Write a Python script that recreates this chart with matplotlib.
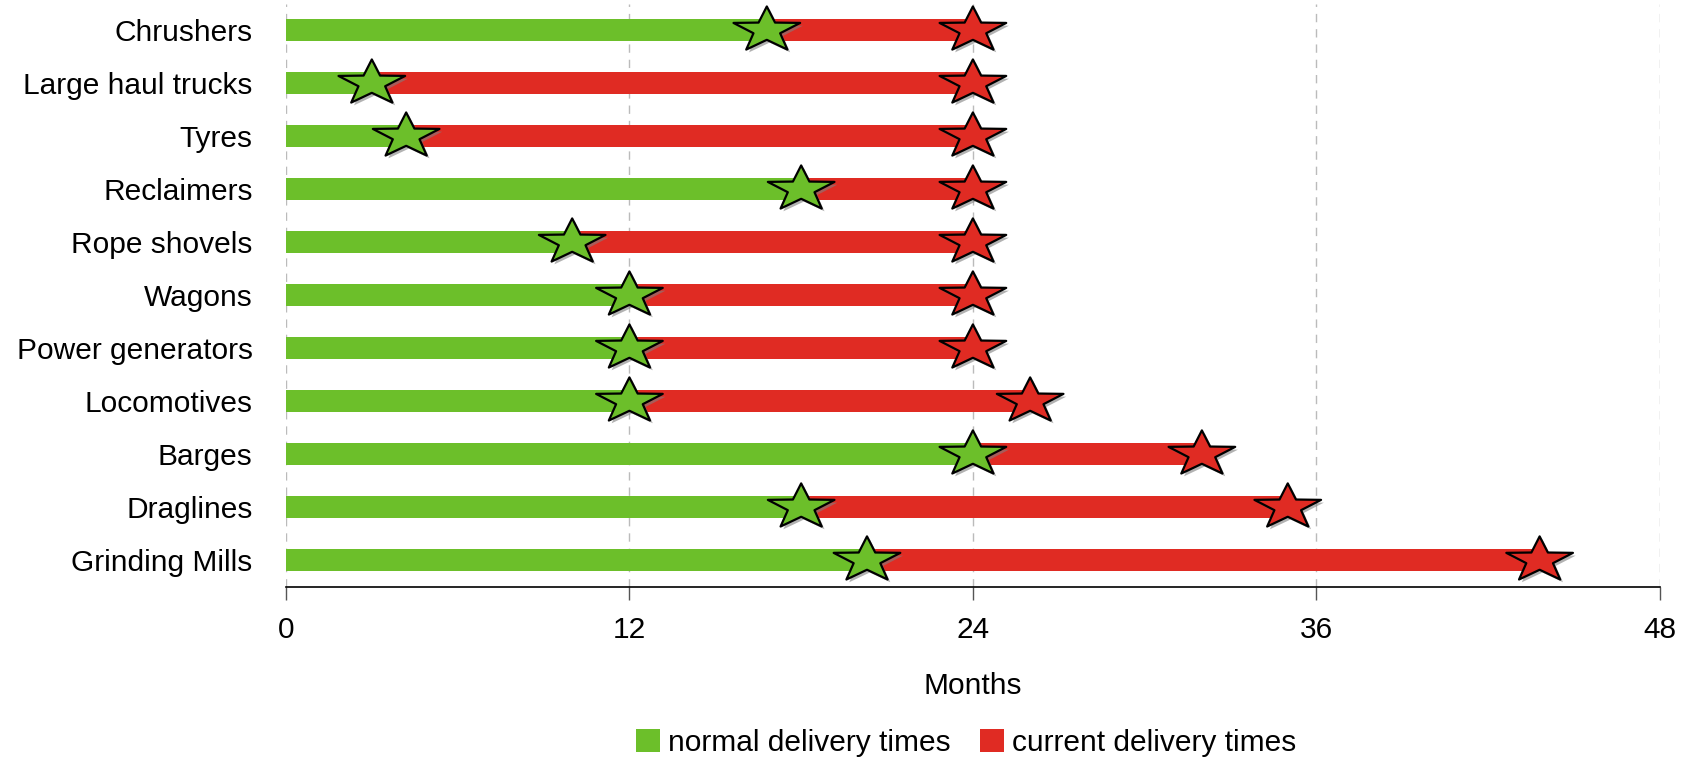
import matplotlib
matplotlib.use("Agg")
import matplotlib.pyplot as plt
import numpy as np
from matplotlib.path import Path
from matplotlib.patches import Patch
import matplotlib.patheffects as pe

plt.rcParams['font.family'] = ['Liberation Sans', 'DejaVu Sans']

categories = ["Chrushers", "Large haul trucks", "Tyres", "Reclaimers", "Rope shovels",
              "Wagons", "Power generators", "Locomotives", "Barges", "Draglines",
              "Grinding Mills"]
normal_times = [16.8, 3.0, 4.2, 18.0, 10.0, 12.0, 12.0, 12.0, 24.0, 18.0, 20.3]
current_times = [24.0, 24.0, 24.0, 24.0, 24.0, 24.0, 24.0, 26.0, 32.0, 35.0, 43.8]
xticks = [0, 12, 24, 36, 48]

GREEN = "#6CBF2A"
RED = "#E02B23"
FS = 21.5

# wide star marker
ang = np.deg2rad(90 + np.arange(10) * 36)
rad = np.where(np.arange(10) % 2 == 0, 1.0, 0.40)
vx = rad * np.cos(ang) * 1.47
vy = rad * np.sin(ang)
verts = np.column_stack([vx, vy])
verts = np.vstack([verts, verts[:1]])
codes = [Path.MOVETO] + [Path.LINETO] * 9 + [Path.CLOSEPOLY]
star = Path(verts, codes)

fig = plt.figure(figsize=(16.92, 7.6), dpi=100)
ax = fig.add_axes([0.169, 0.228, 0.812, 0.767])

y = np.arange(len(categories))
ax.barh(y, current_times, height=0.42, color=RED, zorder=2)
ax.barh(y, normal_times, height=0.42, color=GREEN, zorder=3)

ax.plot(current_times, y, linestyle='none', marker=star, markersize=48,
        markerfacecolor=RED, markeredgecolor='black', markeredgewidth=1.6, zorder=4,
        path_effects=[pe.withSimplePatchShadow(offset=(2, -2), shadow_rgbFace='gray', alpha=0.6)])
ax.plot(normal_times, y, linestyle='none', marker=star, markersize=48,
        markerfacecolor=GREEN, markeredgecolor='black', markeredgewidth=1.6, zorder=5,
        path_effects=[pe.withSimplePatchShadow(offset=(2, -2), shadow_rgbFace='gray', alpha=0.6)])

ax.set_xlim(0, 48)
ax.set_ylim(len(categories) - 0.5, -0.5)
ax.set_xticks(xticks)
ax.set_xticklabels([str(t) for t in xticks], fontsize=FS)
ax.set_yticks(y)
ax.set_yticklabels(categories, fontsize=FS)
ax.tick_params(axis='y', length=0, pad=24)
ax.tick_params(axis='x', length=9, width=1, color='#555555', pad=12)
for s in ['top', 'right', 'left']:
    ax.spines[s].set_visible(False)
ax.spines['bottom'].set_color('black')
ax.spines['bottom'].set_linewidth(1.2)
ax.grid(axis='x', linestyle=(0, (6, 5)), color='#BBBBBB', linewidth=1, zorder=0)
ax.set_axisbelow(True)
ax.set_xlabel("Months", fontsize=FS, labelpad=20)

handles = [Patch(facecolor=GREEN, edgecolor='none', label='normal delivery times'),
           Patch(facecolor=RED, edgecolor='none', label='current delivery times')]
fig.legend(handles=handles, loc='center', bbox_to_anchor=(0.571, 0.023), ncol=2,
           frameon=False, fontsize=FS, handlelength=0.8, handleheight=0.8,
           handletextpad=0.25, columnspacing=1.0)

fig.savefig("out.png", dpi=100)
